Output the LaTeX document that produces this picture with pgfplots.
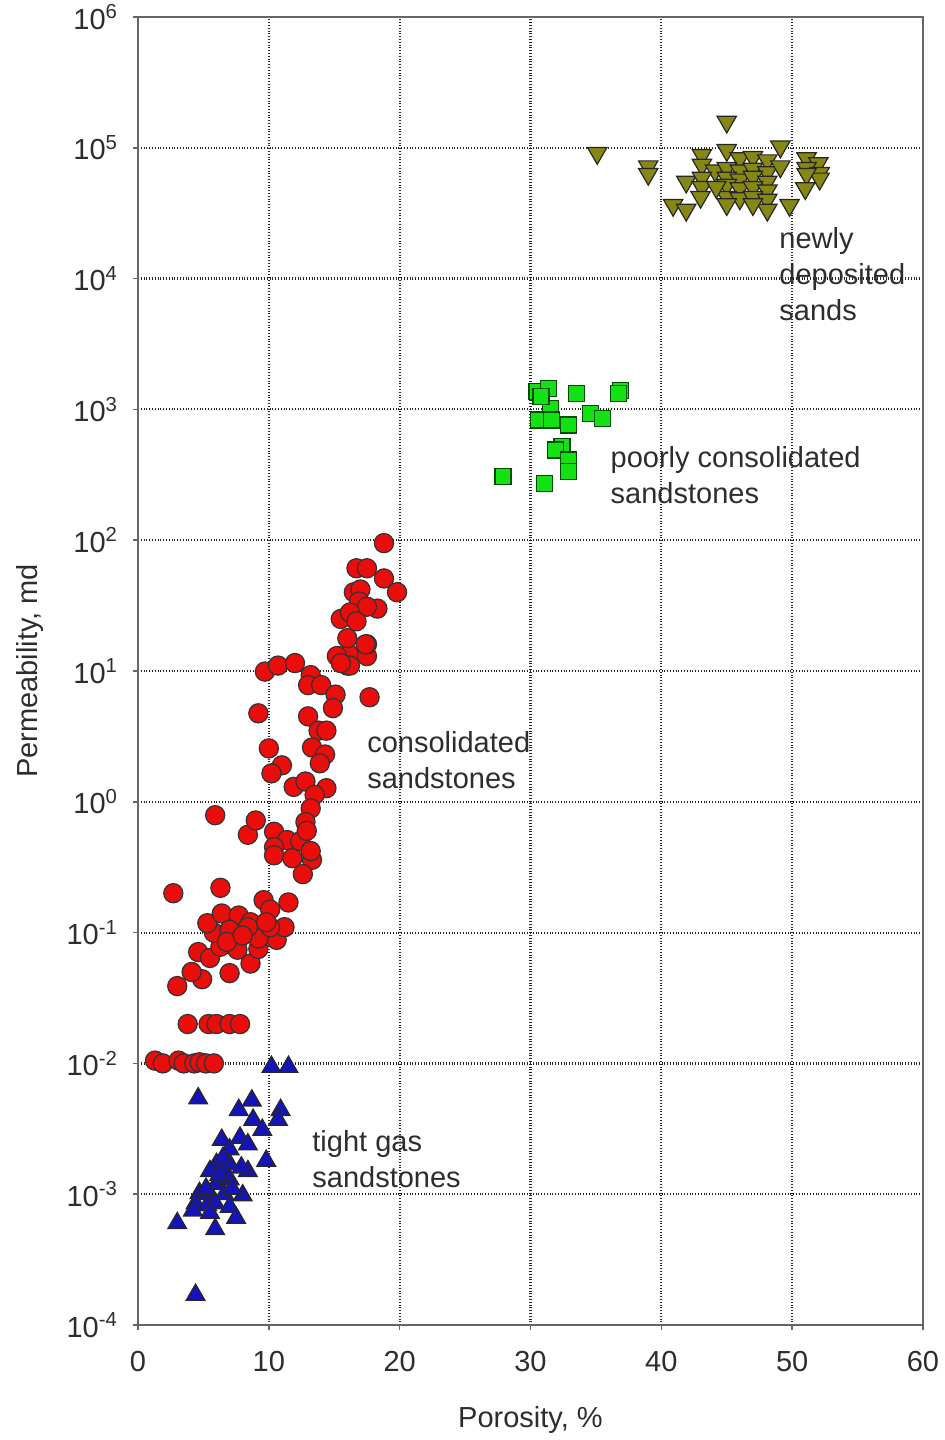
\documentclass[border=0pt]{standalone}
\usepackage{pgfplots}
\pgfplotsset{compat=1.18}
\usepackage{fontspec}
\setmainfont{Liberation Sans}
\definecolor{cred}{RGB}{235,12,12}
\definecolor{cblue}{RGB}{20,20,185}
\definecolor{cgreen}{RGB}{20,225,20}
\definecolor{colive}{RGB}{135,135,20}
\definecolor{txt}{RGB}{45,45,45}
\begin{document}
\begin{tikzpicture}
\useasboundingbox (-69pt,-57.5pt) rectangle (403pt,662.5pt);
\begin{axis}[
  at={(0,0)}, anchor=south west,
  scale only axis, width=392.5pt, height=654pt,
  xmin=0, xmax=60, ymin=1e-4, ymax=1e6, ymode=log,
  xtick={0,10,...,60},
  ytick={1e-4,1e-3,1e-2,1e-1,1,1e1,1e2,1e3,1e4,1e5,1e6},
  yticklabels={10\textsuperscript{-4},10\textsuperscript{-3},10\textsuperscript{-2},10\textsuperscript{-1},10\textsuperscript{0},10\textsuperscript{1},10\textsuperscript{2},10\textsuperscript{3},10\textsuperscript{4},10\textsuperscript{5},10\textsuperscript{6}},
  yminorticks=false,
  xtick pos=bottom, ytick pos=left,
  tick align=outside, major tick length=2.5pt,
  tick style={black!60, line width=0.8pt},
  grid=major,
  major grid style={densely dotted, black!85, line width=1.1pt},
  axis line style={black!60, line width=1pt},
  /pgf/number format/assume math mode=true,
  ticklabel style={font=\fontsize{14.5}{18}\selectfont, text=txt},
  xticklabel style={yshift=-7pt},
  yticklabel style={xshift=-4pt},
  label style={font=\fontsize{14.5}{18}\selectfont, text=txt},
  xlabel={Porosity, \%},
  ylabel={Permeability, md},
  xlabel style={at={(axis description cs:0.5,-0.0726)}, anchor=center},
  ylabel style={at={(axis description cs:-0.1376,0.5)}, anchor=center, rotate=0},
  clip=false,
]
% consolidated sandstones
\addplot[only marks, mark=*, mark size=4.8pt, mark options={fill=cred, draw=black!80, line width=0.6pt}] coordinates {
(1.3,0.0105)(1.9,0.01)(3.1,0.0105)(3.5,0.01)(4.3,0.01)(4.7,0.0102)(5.2,0.01)(5.8,0.01)
(3.8,0.02)(5.4,0.02)(6.0,0.02)(7.0,0.02)(7.8,0.02)
(3.0,0.039)(7.0,0.049)(4.9,0.044)(4.1,0.05)(4.6,0.071)(5.5,0.064)(8.6,0.058)(6.3,0.078)(7.6,0.074)(9.2,0.075)(10.6,0.088)(5.8,0.1)(7.4,0.1)(9.2,0.09)(11.2,0.11)(10.1,0.11)(5.3,0.118)(6.4,0.14)(7.7,0.135)(8.6,0.12)(9.6,0.177)(10.1,0.15)(11.5,0.17)(7.0,0.105)(2.7,0.2)(6.3,0.22)(8.4,0.11)(6.8,0.085)(9.8,0.12)(8.0,0.095)
(5.9,0.79)(8.4,0.56)(9.0,0.72)
(9.7,9.9)(10.7,11)(12.0,11.5)(13.2,9.3)(13.0,7.8)(14.0,7.8)(15.1,6.6)(14.9,5.2)(17.7,6.3)(9.2,4.75)(13.0,4.5)(13.8,3.5)(14.4,3.5)(13.3,2.6)(14.3,2.3)(13.9,1.97)(10.0,2.56)(11.0,1.9)(10.2,1.65)(11.9,1.3)(12.8,1.43)(14.4,1.27)(13.5,1.13)(13.2,0.89)(12.8,0.7)(10.4,0.59)(11.4,0.51)(12.4,0.5)(12.9,0.6)(10.4,0.45)(10.4,0.39)(11.8,0.37)(13.3,0.36)(12.6,0.28)(13.2,0.42)
(15.3,13)(16.1,13.5)(17.5,13)(16.0,11)(17.5,16)
(18.8,95)(16.7,61)(17.5,61)(18.8,51)(19.8,40)(16.5,40)(17.0,42)(16.9,34)(18.3,30)(17.5,31)(15.5,25)(16.2,28)(16.7,24)(16.0,17.8)(17.4,16)(15.2,13)(16.2,11)(15.5,11.5)
};
% tight gas sandstones
\addplot[only marks, mark=triangle*, mark size=5.4pt, mark options={fill=cblue, draw=black!85, line width=0.6pt}] coordinates {
(10.2,0.0094)(11.5,0.0094)(4.6,0.0054)(8.7,0.0052)(7.7,0.0044)(10.9,0.0044)(10.7,0.0037)(8.8,0.0037)(9.5,0.0031)(6.4,0.0026)(7.8,0.0027)(8.4,0.0024)(7.0,0.0022)(9.8,0.0018)(6.0,0.0017)(7.0,0.0017)(8.4,0.0015)(5.5,0.0015)(6.6,0.0015)(7.9,0.0016)(6.0,0.0012)(7.0,0.0013)(4.7,0.00102)(5.5,0.001)(6.6,0.001)(8.0,0.00098)(4.4,0.00085)(5.3,0.00082)(5.9,0.00085)(7.0,0.0008)(4.2,0.00075)(5.5,0.00072)(7.5,0.00066)(3.0,0.0006)(5.9,0.00054)(4.4,0.00017)
(6.5,0.0019)(5.2,0.0011)(6.2,0.0014)(7.2,0.0011)
};
% poorly consolidated sandstones
\addplot[only marks, mark=square*, mark size=4.0pt, mark options={fill=cgreen, draw=black!70!green, line width=0.6pt}] coordinates {
(30.5,1365)(31.4,1450)(33.5,1330)(36.9,1400)(36.7,1330)(31.5,1020)(30.6,830)(31.6,830)(32.9,760)(34.6,930)(35.5,855)(32.4,520)(31.9,490)(32.9,410)(32.9,334)(27.9,306)(31.1,272)(30.8,1250)
};
% newly deposited sands
\addplot[only marks, mark=triangle*, mark size=5.6pt, mark options={rotate=180, fill=colive, draw=black!85, line width=0.6pt}] coordinates {
(45.0,158000)(35.1,91000)(49.1,102000)(39.0,72000)(39.0,63000)(43.1,88000)(45.0,96000)(46.0,83000)(47.0,85000)(48.1,80000)(51.1,83000)(52.0,76000)(43.1,74000)(44.1,67000)(45.0,70000)(46.0,67000)(47.0,69000)(48.1,65000)(49.1,72000)(51.1,70000)(52.1,64000)(41.9,55000)(43.1,59000)(45.0,59000)(46.0,57000)(47.0,60000)(48.1,55000)(45.0,52000)(46.0,49000)(47.0,50000)(48.1,47000)(43.1,50000)(52.1,58000)(51.1,63000)(43.0,42000)(45.0,42000)(46.0,41000)(47.0,42000)(48.1,40000)(51.0,49000)(40.9,36500)(41.9,33500)(45.0,37000)(48.1,33500)(49.8,36500)(47.0,37000)(44.2,50000)
};
\node[anchor=west, align=left, inner sep=0pt, text=txt, font=\fontsize{14.5}{18}\selectfont] at (axis cs:49.0,1.08e4) {newly\\deposited\\sands};
\node[anchor=west, align=left, inner sep=0pt, text=txt, font=\fontsize{14.5}{18}\selectfont] at (axis cs:36.1,312) {poorly consolidated\\sandstones};
\node[anchor=west, align=left, inner sep=0pt, text=txt, font=\fontsize{14.5}{18}\selectfont] at (axis cs:17.5,2.07) {consolidated\\sandstones};
\node[anchor=west, align=left, inner sep=0pt, text=txt, font=\fontsize{14.5}{18}\selectfont] at (axis cs:13.3,1.86e-3) {tight gas\\sandstones};
\end{axis}
\end{tikzpicture}
\end{document}
